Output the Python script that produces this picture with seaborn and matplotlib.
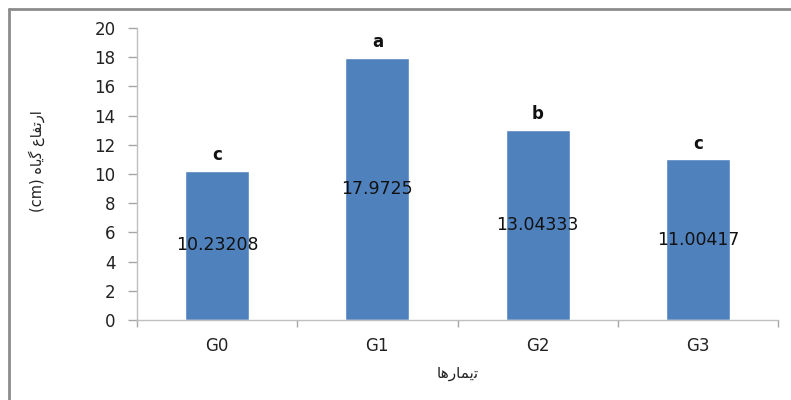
import matplotlib
matplotlib.use("Agg")
import matplotlib.pyplot as plt
from matplotlib.lines import Line2D
import seaborn as sns
import pandas as pd

# Plant height per treatment
treatments = ["G0", "G1", "G2", "G3"]
heights = [10.23208, 17.9725, 13.04333, 11.00417]
value_labels = ["10.23208", "17.9725", "13.04333", "11.00417"]
group_letters = ["c", "a", "b", "c"]

# Persian axis titles, written in shaped visual order
ylabel = "(cm) \ufee9\ufe8e\ufbfe\ufb94 \ufec9\ufe8e\ufed4\ufe97\ufead\ufe8d"
xlabel = "\ufe8e\ufeeb\ufead\ufe8e\ufee4\ufbfe\ufe97"

sns.set_theme(style="white")
plt.rcParams["font.family"] = ["DejaVu Sans"]

df = pd.DataFrame({"treatment": treatments, "height": heights})

fig = plt.figure(figsize=(7.91, 4.00), dpi=100)
ax = fig.add_axes([137 / 791, 80 / 400, 641 / 791, 292 / 400])

sns.barplot(data=df, x="treatment", y="height", color="#4F81BD",
            saturation=1, width=0.4, ax=ax)

ax.set_xlim(-0.5, 3.5)
ax.set_ylim(0, 20)
ax.set_yticks(range(0, 21, 2))
ax.set_xticks(range(len(treatments)))
ax.set_xticklabels(treatments)

# Category boundary ticks on the x axis
ax.set_xticks([-0.5, 0.5, 1.5, 2.5, 3.5], minor=True)
ax.tick_params(axis="x", which="major", length=0, pad=12, labelsize=12,
               labelcolor="#222222")
ax.tick_params(axis="x", which="minor", length=5, width=1, color="#a6a6a6",
               direction="out", bottom=True)
ax.tick_params(axis="y", length=6.5, width=1, color="#a6a6a6", direction="out",
               left=True, labelsize=12, labelcolor="#222222", pad=9)

for side in ["top", "right"]:
    ax.spines[side].set_visible(False)
for side in ["left", "bottom"]:
    ax.spines[side].set_color("#bfbfbf")
    ax.spines[side].set_linewidth(1)

# Value labels at mid-height and significance letters above the bars
for i, (h, lab, let) in enumerate(zip(heights, value_labels, group_letters)):
    ax.text(i, h / 2, lab, ha="center", va="center", fontsize=12.5,
            color="#111111")
    ax.text(i, h + 0.45, let, ha="center", va="bottom", fontsize=12,
            fontweight="bold", color="#111111")

ax.set_xlabel(xlabel, fontsize=11, color="#222222", labelpad=8)
ax.set_ylabel(ylabel, fontsize=10.5, color="#222222")
ax.yaxis.set_label_coords((45 - 137) / 641, (320 - 161) / 292)

# Outer frame of the chart area
fig.add_artist(Line2D([9 / 791, 9 / 791], [0, 1 - 9 / 400],
                      transform=fig.transFigure, color="#8c8c8c", lw=2))
fig.add_artist(Line2D([9 / 791, 1], [1 - 9 / 400, 1 - 9 / 400],
                      transform=fig.transFigure, color="#8c8c8c", lw=2))

fig.savefig("out.png", dpi=100)
